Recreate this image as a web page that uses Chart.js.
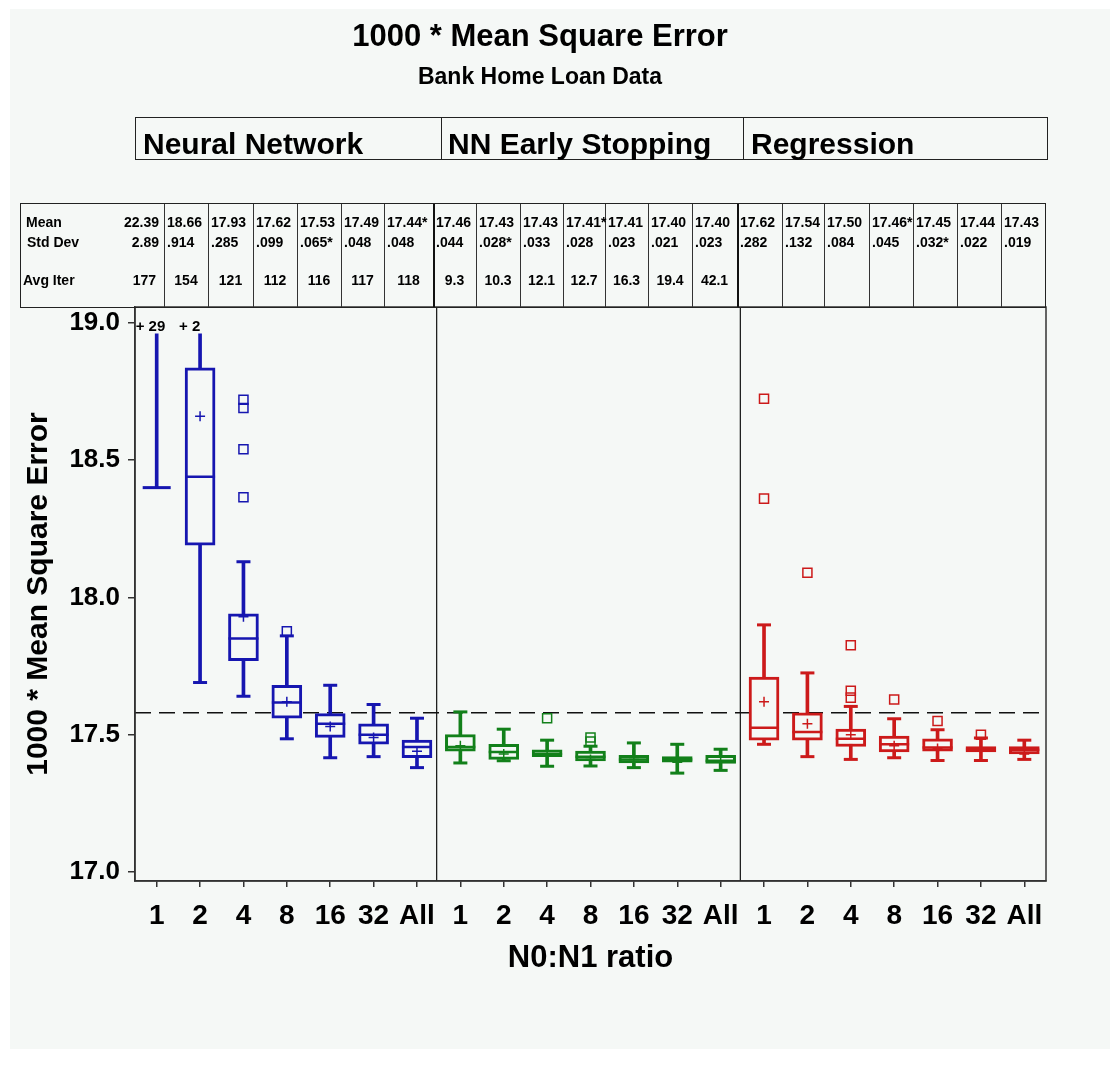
<!DOCTYPE html>
<html>
<head>
<meta charset="utf-8">
<script src="https://cdn.jsdelivr.net/npm/chart.js@4.4.1/dist/chart.umd.min.js"></script>
<style>
  body { margin: 0; background: #fff; font-family: 'Liberation Sans', Arial, sans-serif; }
  #wrap { position: relative; width: 1110px; height: 1079px; overflow: hidden; }
  #bg { position: absolute; left: 10px; top: 9px; width: 1100px; height: 1040px; background: #f5f8f6; }
  #chart { position: absolute; left: 0; top: 0; }
  .abs { position: absolute; white-space: nowrap; line-height: 1; font-weight: bold; color: #000; }
  #head { position: absolute; left: 135px; top: 117px; width: 913px; height: 43px; border: 1.5px solid #222; box-sizing: border-box; }
  #stats { position: absolute; left: 20px; top: 203px; width: 1026px; height: 105px; border: 1.5px solid #222; box-sizing: border-box; }
  .vline { position: absolute; top: 0; bottom: 0; border-left: 1px solid #333; }
  .vline.thick { border-left: 2.5px solid #111; }
  .cell { position: absolute; font-size: 14px; font-weight: bold; line-height: 1; white-space: nowrap; }
</style>
</head>
<body>
<div id="wrap">
  <div id="bg"></div>
  <canvas id="chart" width="1110" height="1079"></canvas>
  <div class="abs" style="left:0;width:1080px;text-align:center;top:20px;font-size:31px;">1000 * Mean Square Error</div>
  <div class="abs" style="left:0;width:1080px;text-align:center;top:65px;font-size:23px;">Bank Home Loan Data</div>
  <div id="head"></div>
  <div id="stats"></div>
</div>
<script>
// Box plot data (values above 19.0 are off the scale)
var ratios = ['1', '2', '4', '8', '16', '32', 'All'];
var methods = ['Neural Network', 'NN Early Stopping', 'Regression'];
var methodColors = ['#1616b0', '#12801a', '#cc1a1a'];

var whiskerLow = [18.40, 17.69, 17.64, 17.485, 17.416, 17.42, 17.38,
                  17.397, 17.405, 17.385, 17.386, 17.38, 17.36, 17.37,
                  17.465, 17.42, 17.41, 17.416, 17.406, 17.406, 17.41];
var q1 = [null, 18.19, 17.77, 17.56, 17.49, 17.465, 17.416,
          17.44, 17.41, 17.42, 17.404, 17.397, 17.40, 17.395,
          17.48, 17.48, 17.457, 17.437, 17.44, 17.437, 17.43];
var median = [null, 18.44, 17.85, 17.617, 17.54, 17.50, 17.455,
              17.455, 17.437, 17.43, 17.42, 17.41, 17.41, 17.405,
              17.525, 17.51, 17.485, 17.465, 17.453, 17.447, 17.445];
var q3 = [null, 18.836, 17.94, 17.68, 17.577, 17.54, 17.48,
          17.50, 17.465, 17.445, 17.44, 17.425, 17.42, 17.425,
          17.71, 17.58, 17.52, 17.495, 17.485, 17.457, 17.457];
var whiskerHigh = [18.96, 18.96, 18.13, 17.86, 17.68, 17.61, 17.56,
                   17.583, 17.52, 17.48, 17.458, 17.47, 17.465, 17.447,
                   17.90, 17.725, 17.603, 17.558, 17.518, 17.488, 17.48];
// number of points above the top of the axis
var offScale = [29, 2, null, null, null, null, null,
                null, null, null, null, null, null, null,
                null, null, null, null, null, null, null];

// outliers: [method index, ratio index, value]
var outliers = [
  [0, 2, 18.72], [0, 2, 18.69], [0, 2, 18.54], [0, 2, 18.365], [0, 3, 17.877],
  [1, 2, 17.56], [1, 3, 17.49], [1, 3, 17.475],
  [2, 0, 18.724], [2, 0, 18.36], [2, 1, 18.09], [2, 2, 17.826], [2, 2, 17.66],
  [2, 2, 17.635], [2, 3, 17.628], [2, 4, 17.55], [2, 5, 17.50]
];

var refLine = 17.58;
var yTicks = [17.0, 17.5, 18.0, 18.5, 19.0];

// stats table
var meanText = ['22.39', '18.66', '17.93', '17.62', '17.53', '17.49', '17.44*',
                '17.46', '17.43', '17.43', '17.41*', '17.41', '17.40', '17.40',
                '17.62', '17.54', '17.50', '17.46*', '17.45', '17.44', '17.43'];
var sdText = ['2.89', '.914', '.285', '.099', '.065*', '.048', '.048',
              '.044', '.028*', '.033', '.028', '.023', '.021', '.023',
              '.282', '.132', '.084', '.045', '.032*', '.022', '.019'];
var iterText = ['177', '154', '121', '112', '116', '117', '118',
                '9.3', '10.3', '12.1', '12.7', '16.3', '19.4', '42.1',
                '', '', '', '', '', '', ''];

var categories = [];
var colors = [];
methods.forEach(function(m, mi) {
    ratios.forEach(function(r) {
        categories.push(m + ' ' + r);
        colors.push(methodColors[mi]);
    });
});
var means = meanText.map(function(t) { return parseFloat(t); });
var whiskerCapHigh = whiskerHigh.map(function(v, i) { return offScale[i] ? null : v; });
var outlierPoints = outliers.map(function(o) { return { x: categories[o[0] * 7 + o[1]], y: o[2] }; });
var outlierColors = outliers.map(function(o) { return methodColors[o[0]]; });

// ---- header and stats table (html) ----
var head = document.getElementById('head');
var headLines = [305, 607];
var headText = [7, 312, 615];
headLines.forEach(function(x) {
    var d = document.createElement('div');
    d.className = 'vline';
    d.style.left = x + 'px';
    d.style.borderLeft = '1.5px solid #222';
    head.appendChild(d);
});
methods.forEach(function(m, i) {
    var d = document.createElement('div');
    d.className = 'abs';
    d.style.left = headText[i] + 'px';
    d.style.top = '11px';
    d.style.fontSize = '30px';
    d.textContent = m;
    head.appendChild(d);
});

var stats = document.getElementById('stats');
var colEdges = [20, 164, 208, 253, 297, 341, 384, 433, 476, 520, 563, 605, 648, 692,
                737, 782, 824, 869, 913, 957, 1001, 1045];
var rowTop = { mean: 11, sd: 31, iter: 69 };
function addCell(text, left, top, width, align) {
    var d = document.createElement('div');
    d.className = 'cell';
    d.style.left = left + 'px';
    d.style.top = top + 'px';
    if (width) { d.style.width = width + 'px'; d.style.textAlign = align; }
    d.textContent = text;
    stats.appendChild(d);
}
for (var c = 1; c < colEdges.length - 1; c++) {
    var v = document.createElement('div');
    v.className = (c === 7 || c === 14) ? 'vline thick' : 'vline';
    v.style.left = (colEdges[c] - 21) + 'px';
    stats.appendChild(v);
}
addCell('Mean', 5, rowTop.mean);
addCell('Std Dev', 6, rowTop.sd);
addCell('Avg Iter', 2, rowTop.iter);
for (var i = 0; i < meanText.length; i++) {
    var l = colEdges[i] - 21, w = colEdges[i + 1] - colEdges[i];
    if (i === 0) {
        addCell(meanText[i], l, rowTop.mean, w - 5, 'right');
        addCell(sdText[i], l, rowTop.sd, w - 5, 'right');
        addCell(iterText[i], l, rowTop.iter, w - 8, 'right');
    } else {
        addCell(meanText[i], l + 3, rowTop.mean);
        addCell(sdText[i], l + 3, rowTop.sd);
        addCell(iterText[i], l, rowTop.iter, w, 'center');
    }
}

// ---- chart ----
var panelPlugin = {
    id: 'panels',
    beforeDatasetsDraw: function(chart) {
        var ctx = chart.ctx, a = chart.chartArea;
        var xs = chart.scales.x, ys = chart.scales.y;
        ctx.save();
        // reference line
        var yr = ys.getPixelForValue(refLine);
        ctx.strokeStyle = '#111';
        ctx.lineWidth = 1.5;
        ctx.setLineDash([16, 8]);
        ctx.beginPath();
        ctx.moveTo(a.left, yr);
        ctx.lineTo(a.right, yr);
        ctx.stroke();
        ctx.setLineDash([]);
        // panel separators
        ctx.lineWidth = 1.2;
        [7, 14].forEach(function(k) {
            var x = (xs.getPixelForValue(k - 1) + xs.getPixelForValue(k)) / 2 - 2;
            ctx.beginPath();
            ctx.moveTo(x, a.top);
            ctx.lineTo(x, a.bottom);
            ctx.stroke();
        });
        ctx.restore();
    },
    afterDatasetsDraw: function(chart) {
        var ctx = chart.ctx, a = chart.chartArea, xs = chart.scales.x;
        ctx.save();
        ctx.strokeStyle = '#333';
        ctx.lineWidth = 1.5;
        ctx.strokeRect(a.left, a.top, a.right - a.left, a.bottom - a.top);
        ctx.fillStyle = '#000';
        ctx.font = 'bold 15px "Liberation Sans", Arial, sans-serif';
        ctx.textBaseline = 'middle';
        offScale.forEach(function(n, i) {
            if (!n) return;
            ctx.fillText('+ ' + n, xs.getPixelForValue(i) - 21, a.top + 20);
        });
        ctx.restore();
    }
};

Chart.defaults.font.family = "'Liberation Sans', Arial, sans-serif";
Chart.defaults.color = '#000';

new Chart(document.getElementById('chart'), {
    type: 'bar',
    data: {
        labels: categories,
        datasets: [{
            label: 'whisker',
            data: whiskerLow.map(function(v, i) { return [v, whiskerHigh[i]]; }),
            backgroundColor: colors,
            borderWidth: 0,
            barThickness: 3,
            grouped: false,
            order: 6
        }, {
            label: 'box',
            data: q1.map(function(v, i) { return v === null ? null : [v, q3[i]]; }),
            backgroundColor: '#f5f8f6',
            borderColor: colors,
            borderWidth: 3,
            borderSkipped: false,
            barThickness: 30,
            grouped: false,
            order: 5
        }, {
            type: 'line',
            label: 'median',
            data: median,
            showLine: false,
            pointStyle: 'line',
            pointRadius: 15,
            pointBorderWidth: 2.5,
            pointBorderColor: colors,
            order: 3
        }, {
            type: 'line',
            label: 'low cap',
            data: whiskerLow,
            showLine: false,
            pointStyle: 'line',
            pointRadius: function(c) { return c.dataIndex === 0 ? 14 : 7; },
            pointBorderWidth: 3,
            pointBorderColor: colors,
            order: 3
        }, {
            type: 'line',
            label: 'high cap',
            data: whiskerCapHigh,
            showLine: false,
            pointStyle: 'line',
            pointRadius: 7,
            pointBorderWidth: 3,
            pointBorderColor: colors,
            order: 3
        }, {
            type: 'line',
            label: 'mean',
            data: means,
            showLine: false,
            pointStyle: 'cross',
            pointRadius: 5,
            pointBorderWidth: 1.5,
            pointBorderColor: colors,
            order: 2
        }, {
            type: 'line',
            label: 'outliers',
            data: outlierPoints,
            showLine: false,
            pointStyle: 'rect',
            pointRadius: 6.4,
            pointBorderWidth: 1.5,
            pointBackgroundColor: 'rgba(0,0,0,0)',
            pointBorderColor: outlierColors,
            order: 1
        }]
    },
    options: {
        responsive: false,
        animation: false,
        events: [],
        layout: { padding: { left: 0, right: 64, top: 307, bottom: 98 } },
        plugins: { legend: { display: false }, tooltip: { enabled: false } },
        scales: {
            x: {
                offset: true,
                grid: { offset: false, drawOnChartArea: false, tickLength: 6, color: '#333', lineWidth: 1.5 },
                border: { color: '#333', width: 1.5 },
                ticks: {
                    autoSkip: false, maxRotation: 0, padding: 12,
                    font: { size: 28, weight: 'bold' },
                    callback: function(v, i) { return ratios[i % ratios.length]; }
                },
                title: { display: true, text: 'N0:N1 ratio', font: { size: 31, weight: 'bold' }, padding: { top: 0, bottom: 4 } },
                afterFit: function(s) { s.height = 100; }
            },
            y: {
                min: 16.967,
                max: 19.058,
                afterBuildTicks: function(s) { s.ticks = yTicks.map(function(v) { return { value: v }; }); },
                grid: { drawOnChartArea: false, tickLength: 7, color: '#333', lineWidth: 1.5 },
                border: { color: '#333', width: 1.5 },
                ticks: { padding: 8, font: { size: 26, weight: 'bold' }, callback: function(v) { return v.toFixed(1); } },
                title: { display: true, text: '1000 * Mean Square Error', font: { size: 30, weight: 'bold' }, padding: { top: 21, bottom: 0 } },
                afterFit: function(s) { s.width = 135; }
            }
        }
    },
    plugins: [panelPlugin]
});
</script>
</body>
</html>
